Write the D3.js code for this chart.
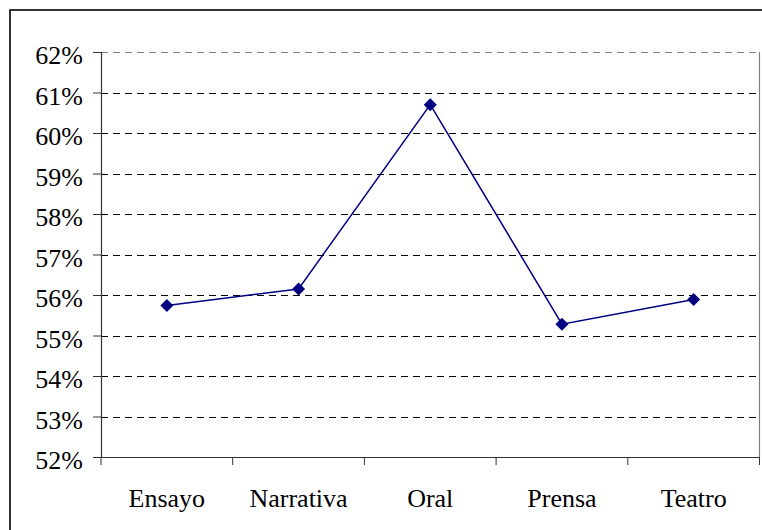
<!DOCTYPE html>
<html><head><meta charset="utf-8">
<script src="https://cdn.jsdelivr.net/npm/d3@7"></script>
</head><body style="margin:0">
<svg id="c" width="762" height="530"></svg>
<script>
const categories = ["Ensayo", "Narrativa", "Oral", "Prensa", "Teatro"];
const values = [55.74, 56.15, 60.70, 55.28, 55.89];
const yTicks = [52, 53, 54, 55, 56, 57, 58, 59, 60, 61, 62];

const svg = d3.select("#c");
const L = 101, R = 759.5, T = 52, B = 457;
const FONT = "Liberation Serif";

// outer frame
svg.append("rect").attr("x", 10).attr("y", 10).attr("width", 800).attr("height", 600)
  .attr("fill", "none").attr("stroke", "#000").attr("stroke-width", 1.6);

const x = d3.scaleBand().domain(categories).range([L, R]);
const y = d3.scaleLinear().domain([52, 62]).range([B, T]);

// plot area border (right)
svg.append("line").attr("x1", R).attr("x2", R).attr("y1", T).attr("y2", B)
  .attr("stroke", "#808080").attr("stroke-width", 1.2);

// gridlines
svg.append("g").selectAll("line").data(yTicks.filter(d => d > 52)).join("line")
  .attr("x1", L).attr("x2", R)
  .attr("y1", d => Math.round(y(d)) + 0.5).attr("y2", d => Math.round(y(d)) + 0.5)
  .attr("stroke", d => d === 62 ? "#808080" : "#000").attr("stroke-width", 1)
  .attr("stroke-dasharray", "7,5");

// y axis (lines only, labels drawn below)
const yAxis = d3.axisLeft(y).tickValues(yTicks).tickFormat("").tickSize(8);
const gy = svg.append("g").attr("transform", `translate(${L},0)`).call(yAxis);
gy.select(".domain").attr("stroke", "#333").attr("stroke-width", 1.2);
gy.selectAll(".tick line").attr("stroke", "#333");
gy.selectAll(".tick text").remove();

yTicks.forEach(t => {
  svg.append("text").attr("x", L - 18).attr("y", y(t) + 12)
    .attr("font-family", FONT).attr("font-size", 26).attr("text-anchor", "end")
    .attr("fill", "#000").text(t + "%");
});

// x axis
const xAxis = d3.axisBottom(x).tickSize(0).tickFormat("");
const gx = svg.append("g").attr("transform", `translate(0,${B})`).call(xAxis);
gx.select(".domain").attr("stroke", "#333").attr("stroke-width", 1.2);
gx.selectAll(".tick text").remove();
categories.forEach(c => {
  svg.append("text").attr("x", x(c) + x.bandwidth() / 2).attr("y", B + 50)
    .attr("font-family", FONT).attr("font-size", 26).attr("text-anchor", "middle")
    .attr("fill", "#000").text(c);
});
// category separator ticks
const bounds = categories.map(c => x(c)).concat([R]);
svg.append("g").selectAll("line").data(bounds).join("line")
  .attr("x1", d => d).attr("x2", d => d).attr("y1", B).attr("y2", B + 8)
  .attr("stroke", "#333").attr("stroke-width", 1);

// line
const pts = categories.map((c, i) => [x(c) + x.bandwidth() / 2, y(values[i])]);
svg.append("path").attr("d", d3.line()(pts)).attr("fill", "none")
  .attr("stroke", "#000080").attr("stroke-width", 1.5);

// diamond markers
const s = 6.5;
svg.append("g").selectAll("path").data(pts).join("path")
  .attr("d", d => `M${d[0]},${d[1]-s}L${d[0]+s},${d[1]}L${d[0]},${d[1]+s}L${d[0]-s},${d[1]}Z`)
  .attr("fill", "#000080");
</script>
</body></html>
